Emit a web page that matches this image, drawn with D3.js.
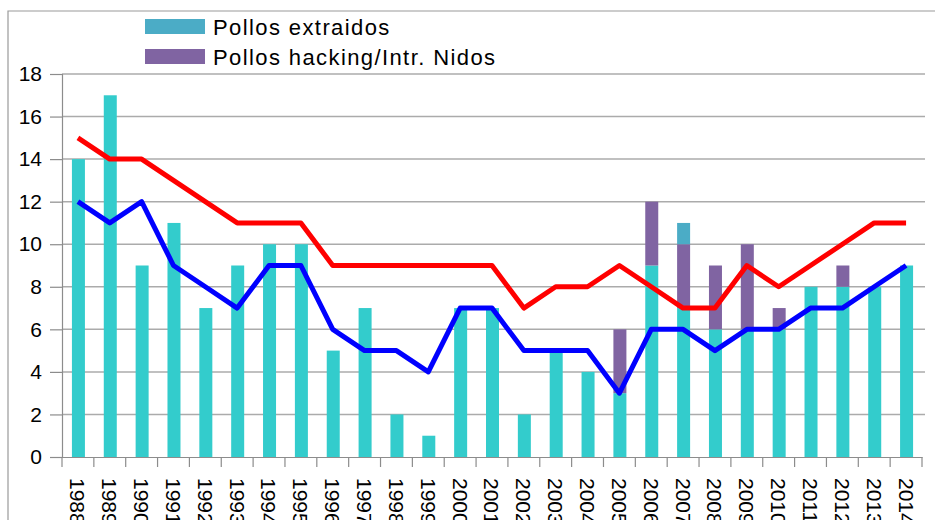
<!DOCTYPE html>
<html><head><meta charset="utf-8">
<script src="https://cdn.jsdelivr.net/npm/d3@7"></script>
<style>body{margin:0;background:#fff;overflow:hidden}svg{display:block}text{font-family:"Liberation Sans",Arial,sans-serif}</style>
</head><body>
<svg id="c" width="935" height="520"></svg>
<script>
const years = ["1988","1989","1990","1991","1992","1993","1994","1995","1996","1997","1998","1999","2000","2001","2002","2003","2004","2005","2006","2007","2008","2009","2010","2011","2012","2013","2014"];
const pollosBase =      [14,17,9,11,7,9,10,10,5,7,2,1,7,7,2,5,4,3,9,7,6,6,6,8,8,8,9];
const pollosHacking =   [0,0,0,0,0,0,0,0,0,0,0,0,0,0,0,0,0,3,3,3,3,4,1,0,1,0,0];
const pollosExtraidos = [0,0,0,0,0,0,0,0,0,0,0,0,0,0,0,0,0,0,0,1,0,0,0,0,0,0,0];
const redLine =  [15,14,14,13,12,11,11,11,9,9,9,9,9,9,7,8,8,9,8,7,7,9,8,9,10,11,11];
const blueLine = [12,11,12,9,8,7,9,9,6,5,5,4,7,7,5,5,5,3,6,6,5,6,6,7,7,8,9];
const yTicks = [0,2,4,6,8,10,12,14,16,18];
const legendItems = [["Pollos extraidos","#4BACC6"],["Pollos hacking/Intr. Nidos","#8064A2"]];

const svg = d3.select("#c");
const L = 62, R = 922, T = 74, B = 457;
const x = d3.scaleBand().domain(years).range([L, R]).paddingInner(0).paddingOuter(0);
const y = d3.scaleLinear().domain([0,18]).range([B, T]);
const bw = 13;

// outer chart border
svg.append("path").attr("d", `M8,520 L8,11 L935,11`).attr("fill","none").attr("stroke","#9a9a9a").attr("stroke-width",1.2);

// gridlines
svg.append("g").selectAll("line").data(yTicks.filter(d=>d>0)).join("line")
  .attr("x1", L).attr("x2", 925).attr("y1", d=>y(d)).attr("y2", d=>y(d))
  .attr("stroke","#ababab").attr("stroke-width",1.5);

// y axis
const ya = svg.append("g").attr("transform",`translate(${L},0)`)
  .call(d3.axisLeft(y).tickValues(yTicks).tickSize(12).tickPadding(8));
ya.select(".domain").attr("stroke","#8c8c8c").attr("stroke-width",1.2);
ya.selectAll(".tick line").attr("stroke","#8c8c8c").attr("stroke-width",1.2);
ya.selectAll("text").attr("font-size",21).attr("fill","#000").attr("font-family","Liberation Sans, Arial, sans-serif");

// x axis
const xa = svg.append("g").attr("transform",`translate(0,${B})`)
  .call(d3.axisBottom(x).tickSize(0).tickFormat(""));
xa.select(".domain").attr("stroke","#8c8c8c").attr("stroke-width",1.2);
const bounds = years.map(d=>x(d)).concat([x(years[years.length-1])+x.bandwidth()]);
svg.append("g").selectAll("line").data(bounds).join("line")
  .attr("x1",d=>d).attr("x2",d=>d).attr("y1",B).attr("y2",B+10)
  .attr("stroke","#8c8c8c").attr("stroke-width",1.2);
svg.append("g").selectAll("text").data(years).join("text")
  .attr("transform", d=>`translate(${x(d)+x.bandwidth()/2},478) rotate(90)`)
  .attr("dy","0.36em").attr("font-size",21).attr("fill","#000").text(d=>d);

// stacked bars
const stackData = years.map((yr,i)=>({yr, base:pollosBase[i], hack:pollosHacking[i], extr:pollosExtraidos[i]}));
const stack = d3.stack().keys(["base","hack","extr"])(stackData);
const colors = {base:"#33CCCC", hack:"#8064A2", extr:"#4BACC6"};
svg.append("g").selectAll("g").data(stack).join("g").attr("fill", s=>colors[s.key])
  .selectAll("rect").data(s=>s).join("rect")
  .attr("x", d=>x(d.data.yr)+x.bandwidth()/2-bw/2+0.5).attr("width", bw)
  .attr("y", d=>y(d[1])).attr("height", d=>y(d[0])-y(d[1]));

// lines
const line = d3.line().x((d,i)=>x(years[i])+x.bandwidth()/2).y(d=>y(d));
svg.append("path").datum(redLine).attr("d",line).attr("fill","none").attr("stroke","#FF0000").attr("stroke-width",5).attr("stroke-linejoin","round");
svg.append("path").datum(blueLine).attr("d",line).attr("fill","none").attr("stroke","#0000FF").attr("stroke-width",5).attr("stroke-linejoin","round");

// legend
const lg = svg.append("g");
legendItems.forEach(([t,c],i)=>{
  lg.append("rect").attr("x",145).attr("y",19+i*30).attr("width",60).attr("height",15).attr("fill",c);
  lg.append("text").attr("x",213).attr("y",35+i*30).attr("font-size",22).attr("letter-spacing",1.4).attr("fill","#000").text(t);
});
</script>
</body></html>
